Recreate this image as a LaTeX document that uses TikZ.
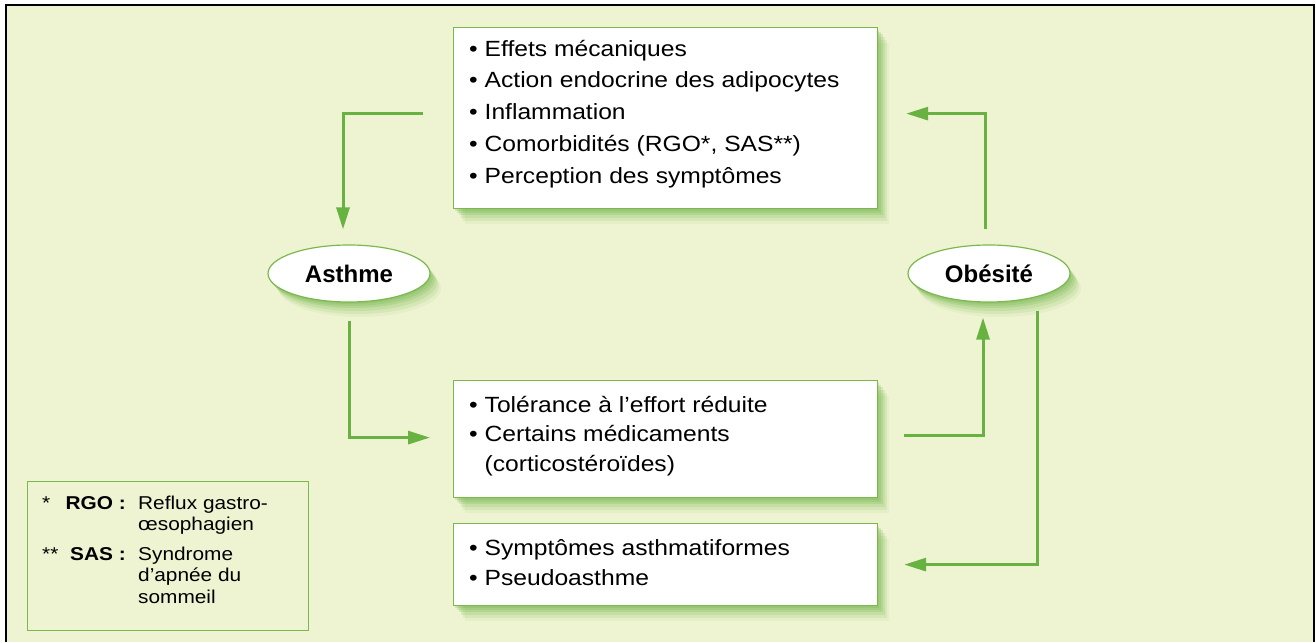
\documentclass[tikz,border=0pt]{standalone}
\usepackage{fontspec}
\setmainfont{Liberation Sans}[FakeStretch=1.12]
\newfontfamily\ellfont{Liberation Sans}
\usetikzlibrary{arrows.meta,shapes.geometric,shadows,calc}
\definecolor{bg}{HTML}{EEF4D2}
\definecolor{lgreen}{HTML}{68B242}
\definecolor{bgreen}{HTML}{7DB84E}
\definecolor{shgreen}{HTML}{6FB446}
\tikzset{
  softshadow/.style={
    drop shadow={shadow xshift=1pt, shadow yshift=-2pt, fill=shgreen, opacity=0.22},
    drop shadow={shadow xshift=3pt, shadow yshift=-4pt, fill=shgreen, opacity=0.22},
    drop shadow={shadow xshift=5pt, shadow yshift=-6pt, fill=shgreen, opacity=0.2},
    drop shadow={shadow xshift=7pt, shadow yshift=-9pt, fill=shgreen, opacity=0.16},
    drop shadow={shadow xshift=9pt, shadow yshift=-12pt, fill=shgreen, opacity=0.12},
    drop shadow={shadow xshift=11pt, shadow yshift=-15pt, fill=shgreen, opacity=0.08}},
  listbox/.style={draw=bgreen, line width=1.2pt, fill=white, softshadow,
    rectangle, anchor=north west, inner sep=0pt},
  ell/.style={ellipse, draw=bgreen, line width=1.2pt, fill=white, softshadow,
    minimum width=162pt, minimum height=57pt, inner sep=0pt,
    font=\ellfont\bfseries\fontsize{24}{28}\selectfont},
  listtxt/.style={anchor=base west, align=left, inner sep=0pt},
  arr/.style={draw=lgreen, line width=3pt, -{Triangle[length=22pt,width=13pt]}},
  legtxt/.style={inner sep=0pt, font=\fontsize{18.6}{21.5}\selectfont}
}
\begin{document}
\begin{tikzpicture}[x=1pt,y=-1pt]
\useasboundingbox (0,0) rectangle (1316,642);
\fill[white] (0,0) rectangle (1316,642);
\fill[bg] (6,5) rectangle (1314,642);
\draw[black, line width=2pt] (6,642) -- (6,5) -- (1314,5) -- (1314,642);

% boxes
\node[listbox, minimum width=424pt, minimum height=181pt] (top) at (453,27) {};
\node[listbox, minimum width=424pt, minimum height=117pt] (mid) at (453,380) {};
\node[listbox, minimum width=424pt, minimum height=82pt] (bot) at (453,523) {};

% (base anchor = baseline of the last line)
\node[listtxt, font=\fontsize{22}{31.8}\selectfont] (toptxt) at (469,183.2)
  {\textbullet\ Effets mécaniques\\
   \textbullet\ Action endocrine des adipocytes\\
   \textbullet\ Inflammation\\
   \textbullet\ Comorbidités (RGO*, SAS**)\\
   \textbullet\ Perception des symptômes};
\node[listtxt, font=\fontsize{22}{29.5}\selectfont] (midtxt) at (469,471)
  {\textbullet\ Tolérance à l’effort réduite\\
   \textbullet\ Certains médicaments\\
   \phantom{\textbullet\ }(corticostéroïdes)};
\node[listtxt, font=\fontsize{22}{30}\selectfont] (bottxt) at (469,585)
  {\textbullet\ Symptômes asthmatiformes\\
   \textbullet\ Pseudoasthme};

% ellipses
\node[ell] (asthme) at (349,273.5) {Asthme};
\node[ell] (obes) at (989,273.5) {Obésité};

% connectors
\draw[arr] ([xshift=-30pt,yshift=4.5pt]top.west) -| ([xshift=-6pt,yshift=15pt]asthme.north);
\draw[arr] ([yshift=-18pt]asthme.south) |- ([xshift=-23pt,yshift=1.5pt]mid.west);
\draw[arr] ([xshift=26pt,yshift=3.5pt]mid.east) -| ([xshift=-6pt,yshift=-15pt]obes.south);
\draw[arr] ([xshift=48pt,yshift=-8pt]obes.south) |- ([xshift=26pt]bot.east);
\draw[arr] ([xshift=-4pt,yshift=15pt]obes.north) |- ([xshift=28pt,yshift=4.5pt]top.east);

% legend
\node[draw=bgreen, line width=1.2pt, rectangle, anchor=north west, inner sep=0pt,
  minimum width=281pt, minimum height=149pt] (legend) at (27,481) {};
\node[legtxt, anchor=base west] (s1) at (42,509) {*};
\node[legtxt, anchor=base east, font=\bfseries\fontsize{18.6}{21.5}\selectfont] (k1) at (126,509) {RGO :};
\node[legtxt, anchor=base west, align=left] (d1) at (138,530.5) {Reflux gastro-\\œsophagien};
\node[legtxt, anchor=base west] (s2) at (42,560) {**};
\node[legtxt, anchor=base east, font=\bfseries\fontsize{18.6}{21.5}\selectfont] (k2) at (126,560) {SAS :};
\node[legtxt, anchor=base west, align=left] (d2) at (138,603) {Syndrome\\d’apnée du\\sommeil};
\end{tikzpicture}
\end{document}
